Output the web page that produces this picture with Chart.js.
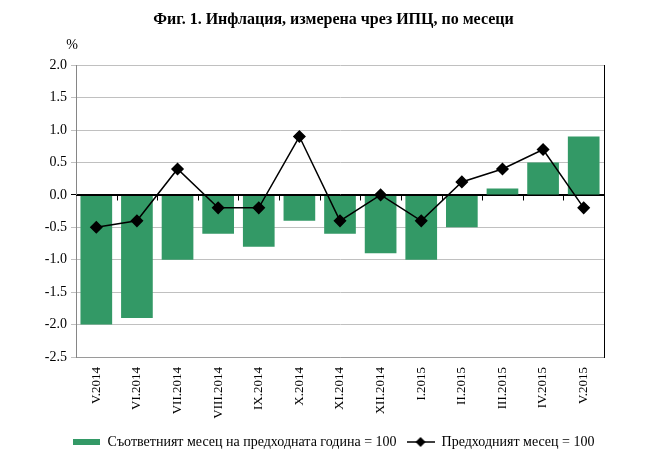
<!DOCTYPE html>
<html>
<head>
<meta charset="utf-8">
<script src="https://cdn.jsdelivr.net/npm/chart.js@4"></script>
<style>
  body { margin: 0; background: #fff; }
  #wrap { width: 667px; height: 461px; }
</style>
</head>
<body>
<div id="wrap"><canvas id="myChart"></canvas></div>
<script>
const months = ['V.2014', 'VI.2014', 'VII.2014', 'VIII.2014', 'IX.2014', 'X.2014', 'XI.2014',
    'XII.2014', 'I.2015', 'II.2015', 'III.2015', 'IV.2015', 'V.2015']
// спрямо същия месец на предходната година
const yearOnYear = [-2.0, -1.9, -1.0, -0.6, -0.8, -0.4, -0.6, -0.9, -1.0, -0.5, 0.1, 0.5, 0.9]
// спрямо предходния месец
const monthOnMonth = [-0.5, -0.4, 0.4, -0.2, -0.2, 0.9, -0.4, 0.0, -0.4, 0.2, 0.4, 0.7, -0.2]
const yMin = -2.5
const yMax = 2.0
const yStep = 0.5

const green = 'rgb(51,153,102)'
const serif = "'Liberation Serif', 'Times New Roman', serif"

// legend symbols
function barSymbol() {
    const c = document.createElement('canvas')
    c.width = 27; c.height = 6
    const g = c.getContext('2d')
    g.fillStyle = green
    g.fillRect(0, 0, 27, 6)
    return c
}
function lineSymbol() {
    const c = document.createElement('canvas')
    c.width = 28; c.height = 12
    const g = c.getContext('2d')
    g.strokeStyle = '#000'
    g.lineWidth = 1.5
    g.beginPath(); g.moveTo(0, 6); g.lineTo(28, 6); g.stroke()
    g.fillStyle = '#000'
    g.beginPath(); g.moveTo(14, 1); g.lineTo(19, 6); g.lineTo(14, 11); g.lineTo(9, 6); g.closePath(); g.fill()
    return c
}
const legendSymbols = [barSymbol(), lineSymbol()]

const extras = {
    id: 'extras',
    afterDatasetDraw(chart, args) {
        if (args.index !== 0) return
        const {ctx, chartArea} = chart
        const x = chart.scales.x
        const y0 = Math.round(chart.scales.y.getPixelForValue(0)) + 0.5
        ctx.save()
        ctx.strokeStyle = '#000'
        ctx.lineWidth = 1
        ctx.beginPath()
        ctx.moveTo(chartArea.left, y0)
        ctx.lineTo(chartArea.right, y0)
        for (let i = 1; i < months.length; i++) {
            const bx = Math.round((x.getPixelForValue(i - 1) + x.getPixelForValue(i)) / 2) + 0.5
            ctx.moveTo(bx, y0)
            ctx.lineTo(bx, y0 + 5)
        }
        ctx.stroke()
        ctx.restore()
    },
    afterDraw(chart) {
        const {ctx, chartArea} = chart
        ctx.save()
        ctx.fillStyle = '#000'
        ctx.font = '14px ' + serif
        ctx.textAlign = 'center'
        ctx.textBaseline = 'middle'
        ctx.fillText('%', chartArea.left - 4, chartArea.top - 20)
        ctx.restore()
    }
}

const ctx = document.getElementById('myChart')

new Chart(ctx, {
    type: 'bar',
    data: {
        labels: months,
        datasets: [{
            type: 'bar',
            label: 'Съответният месец на предходната година = 100',
            data: yearOnYear,
            backgroundColor: green,
            categoryPercentage: 1,
            barPercentage: 0.78,
            order: 2
        }, {
            type: 'line',
            label: 'Предходният месец = 100',
            data: monthOnMonth,
            borderColor: '#000',
            backgroundColor: '#000',
            borderWidth: 1.5,
            pointStyle: 'rectRot',
            pointRadius: 5.5,
            pointHoverRadius: 5.5,
            tension: 0,
            order: 1
        }]
    },
    options: {
        responsive: true,
        maintainAspectRatio: false,
        animation: false,
        layout: { padding: { left: 0, right: 0, top: 0, bottom: 2 } },
        plugins: {
            title: {
                display: true,
                text: 'Фиг. 1. Инфлация, измерена чрез ИПЦ, по месеци',
                color: '#000',
                font: { family: serif, size: 16, weight: 'bold' },
                padding: { top: 10, bottom: 36 }
            },
            legend: {
                position: 'bottom',
                labels: {
                    color: '#000',
                    font: { family: serif, size: 14 },
                    usePointStyle: true,
                    pointStyleWidth: 28,
                    padding: 10,
                    generateLabels(chart) {
                        return chart.data.datasets.map((ds, i) => ({
                            text: ds.label,
                            pointStyle: legendSymbols[i],
                            fillStyle: ds.backgroundColor,
                            strokeStyle: ds.borderColor,
                            lineWidth: 0,
                            hidden: false,
                            datasetIndex: i,
                            fontColor: '#000'
                        }))
                    }
                }
            },
            tooltip: { enabled: false }
        },
        scales: {
            x: {
                grid: { display: false },
                border: { display: true, color: '#9a9a9a' },
                ticks: {
                    color: '#000',
                    font: { family: serif, size: 13 },
                    minRotation: 90,
                    maxRotation: 90,
                    padding: 2
                },
                afterFit(s) { s.height = 68 }
            },
            y: {
                min: yMin,
                max: yMax,
                border: { display: true, color: '#868686' },
                grid: {
                    color: c => c.tick && c.tick.value === 0 ? '#000' : '#c0c0c0',
                    drawTicks: true,
                    tickLength: 5
                },
                ticks: {
                    stepSize: yStep,
                    color: '#000',
                    font: { family: serif, size: 14 },
                    padding: 4,
                    callback: v => v.toFixed(1)
                },
                afterFit(s) { s.width = 76 }
            },
            y2: {
                position: 'right',
                min: yMin,
                max: yMax,
                border: { display: true, color: '#000' },
                grid: { drawOnChartArea: false, drawTicks: false },
                ticks: { display: false },
                afterFit(s) { s.width = 63 }
            }
        }
    },
    plugins: [extras]
});
</script>
</body>
</html>
